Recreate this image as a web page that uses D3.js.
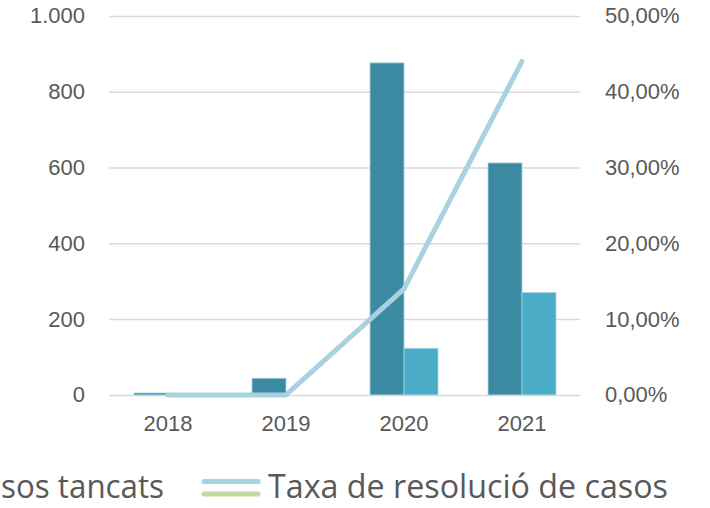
<!DOCTYPE html>
<html>
<head>
<meta charset="utf-8">
<script src="https://cdn.jsdelivr.net/npm/d3@7"></script>
<style>
  body { margin: 0; background: #fff; }
  svg { display: block; font-family: "Open Sans", sans-serif; }
  .axis text { fill: #595959; font-size: 22px; }
  .axis .domain { display: none; }
  .grid line { stroke: #d9d9d9; stroke-width: 1.5; }
  .grid .domain { display: none; }
  .grid text { display: none; }
</style>
</head>
<body>
<svg width="710" height="508"></svg>
<script>
// data
let years = ["2018", "2019", "2020", "2021"];
let casosOberts = [5, 44, 876, 612];
let casosTancats = [0, 0, 123, 270];
let taxaResolucio = [0, 0, 0.14, 0.44];
let seriesNames = ["Casos oberts", "Casos tancats", "Taxa de resolució de casos"];
let leftTicks = [0, 200, 400, 600, 800, 1000];
let rightTicks = [0, 0.1, 0.2, 0.3, 0.4, 0.5];

let svg = d3.select("svg");

// plot area in page pixels
let plot = {left: 109, right: 581, top: 15.9, bottom: 394.9};

let locale = d3.formatLocale({decimal: ",", thousands: ".", grouping: [3], currency: ["", "€"]});
let fmtLeft = locale.format(",d");
let fmtRight = locale.format(".2%");

let xScale = d3.scaleBand()
  .domain(years)
  .range([plot.left, plot.right])
  .paddingInner(0.424)
  .paddingOuter(0.212);

let xInner = d3.scaleBand()
  .domain([0, 1])
  .range([0, xScale.bandwidth()]);

let yLeft = d3.scaleLinear().domain([0, 1000]).range([plot.bottom, plot.top]);
let yRight = d3.scaleLinear().domain([0, 0.5]).range([plot.bottom, plot.top]);

// gridlines
svg.append("g")
  .attr("class", "grid")
  .attr("transform", `translate(${plot.left},0)`)
  .call(d3.axisLeft(yLeft).tickValues(leftTicks).tickSize(-(plot.right - plot.left - 1)));

// left axis
svg.append("g")
  .attr("class", "axis")
  .attr("transform", `translate(${plot.left},0)`)
  .call(d3.axisLeft(yLeft).tickValues(leftTicks).tickSize(0).tickPadding(24).tickFormat(fmtLeft));

// right axis
svg.append("g")
  .attr("class", "axis")
  .attr("transform", `translate(${plot.right - 1},0)`)
  .call(d3.axisRight(yRight).tickValues(rightTicks).tickSize(0).tickPadding(25).tickFormat(fmtRight));

// x axis
svg.append("g")
  .attr("class", "axis")
  .attr("transform", `translate(0,${plot.bottom})`)
  .call(d3.axisBottom(xScale).tickSize(0).tickPadding(20.5));

// bars
let barColors = ["#3c8aa1", "#4aacc6"];
let barData = [];
years.forEach((y, i) => {
  barData.push({year: y, s: 0, v: casosOberts[i]});
  barData.push({year: y, s: 1, v: casosTancats[i]});
});

svg.append("g").selectAll("rect")
  .data(barData.filter(d => d.v > 0))
  .enter().append("rect")
  .attr("x", d => xScale(d.year) + xInner(d.s))
  .attr("width", xInner.bandwidth())
  .attr("y", d => yLeft(d.v))
  .attr("height", d => yLeft(0) - yLeft(d.v))
  .attr("fill", d => barColors[d.s])
  .attr("stroke", "#a6d3e0")
  .attr("stroke-width", 0.8);

// line on the right axis
let line = d3.line()
  .x((d, i) => xScale(years[i]) + xScale.bandwidth() / 2)
  .y(d => yRight(d));

svg.append("path")
  .datum(taxaResolucio)
  .attr("fill", "none")
  .attr("stroke", "#a8d2df")
  .attr("stroke-width", 5)
  .attr("stroke-linecap", "round")
  .attr("stroke-linejoin", "round")
  .attr("d", line);

// legend (cut off on the left, as in the picture)
let legend = svg.append("g").attr("class", "legend");
legend.append("rect")
  .attr("x", -290).attr("y", 474).attr("width", 18).attr("height", 18)
  .attr("fill", barColors[0]);
legend.append("text")
  .attr("x", -262).attr("y", 498)
  .attr("textLength", 175).attr("lengthAdjust", "spacingAndGlyphs")
  .attr("font-size", 33).attr("fill", "#595959")
  .text(seriesNames[0]);
legend.append("rect")
  .attr("x", -64).attr("y", 474).attr("width", 18).attr("height", 18)
  .attr("fill", barColors[1]);
legend.append("text")
  .attr("x", -36).attr("y", 498)
  .attr("textLength", 200).attr("lengthAdjust", "spacingAndGlyphs")
  .attr("font-size", 33).attr("fill", "#595959")
  .text(seriesNames[1]);
legend.append("line")
  .attr("x1", 204).attr("x2", 258).attr("y1", 481.5).attr("y2", 481.5)
  .attr("stroke", "#a8d2df").attr("stroke-width", 5).attr("stroke-linecap", "round");
legend.append("line")
  .attr("x1", 204).attr("x2", 258).attr("y1", 494).attr("y2", 494)
  .attr("stroke", "#c4d8a2").attr("stroke-width", 5).attr("stroke-linecap", "round");
legend.append("text")
  .attr("x", 268).attr("y", 498)
  .attr("textLength", 400).attr("lengthAdjust", "spacingAndGlyphs")
  .attr("font-size", 33).attr("fill", "#595959")
  .text(seriesNames[2]);
</script>
</body>
</html>
